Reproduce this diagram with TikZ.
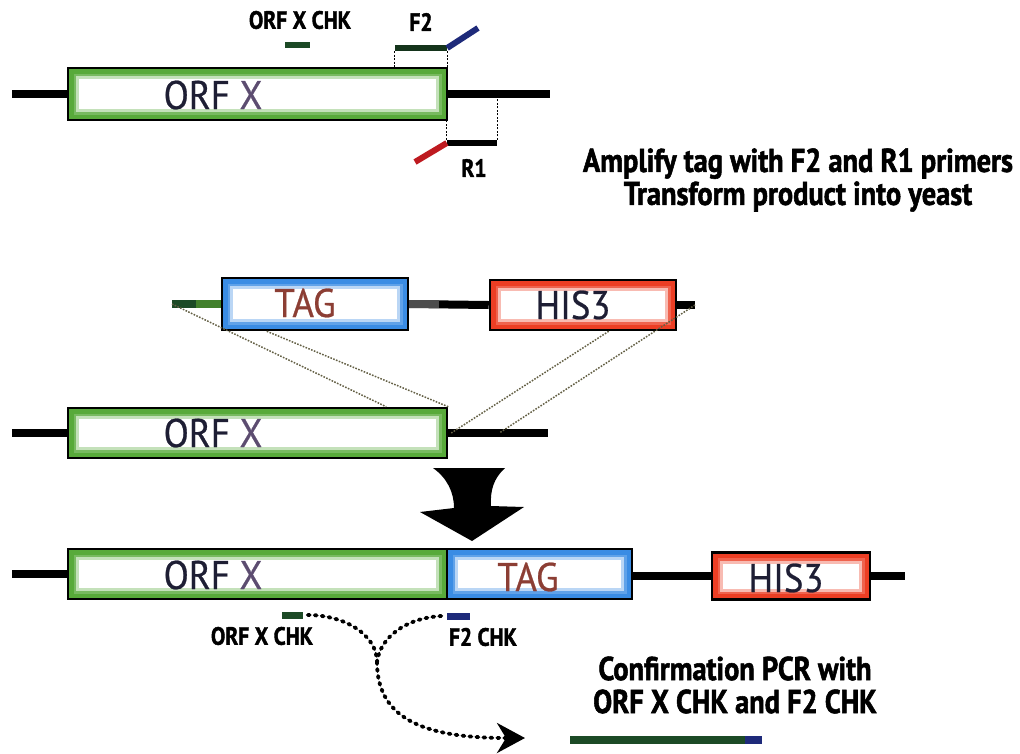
\documentclass[tikz,border=0pt]{standalone}
\usepackage{fontspec}
\setmainfont{PT Sans}
\newfontfamily\boxfont{PT Sans}[FakeStretch=0.92, FakeBold=0.6]
\newfontfamily\headfont{PT Sans}[FakeStretch=0.86, BoldFeatures={FakeBold=1.6}]
\usetikzlibrary{positioning,arrows.meta}
\definecolor{orfgreen}{RGB}{88,170,58}
\definecolor{tagblue}{RGB}{58,140,228}
\definecolor{hisred}{RGB}{236,62,36}
\definecolor{primergreen}{RGB}{28,74,38}
\definecolor{primerblue}{RGB}{30,42,122}
\definecolor{primerred}{RGB}{190,26,32}
\definecolor{orfink}{RGB}{30,30,52}
\definecolor{xink}{RGB}{92,76,112}
\definecolor{tagink}{RGB}{140,62,52}
\begin{document}
\begin{tikzpicture}
            [
            x = 1pt, y = -1pt,
            genebox/.style = {draw = black, line width = 2.5pt, fill = white, inner sep = 0,
                path picture = {
                    \foreach \w/\o in {22/0.35, 16/0.7, 11/1}
                        \draw[#1, line width = \w pt, opacity = \o]
                            (path picture bounding box.south west) rectangle (path picture bounding box.north east);
                }},
            dna/.style = {line width = 8pt, black},
            primer/.style = {rectangle, inner sep = 0, minimum height = 6pt},
            xover/.style = {line width = 1.5pt, dash pattern = on 1.6pt off 1.4pt, black!70!yellow},
            guide/.style = {line width = 1.2pt, dash pattern = on 2pt off 1.5pt, black},
            chkdots/.style = {line width = 3.8pt, dash pattern = on 2pt off 5pt, line cap = round, black},
            ]
            \tikzstyle{gene text}=[font=\boxfont\fontsize{40}{44}\selectfont, inner sep = 0]
            \tikzstyle{primer label}=[font=\headfont\bfseries\fontsize{25}{27}\selectfont, inner sep = 0]
            \tikzstyle{step text}=[font=\headfont\bfseries\fontsize{33}{33}\selectfont, align = center, inner sep = 0]

            \useasboundingbox (0,0) rectangle (1020,753);

            % ORF X with primers
            \node[genebox = orfgreen, minimum width = 379pt, minimum height = 52pt] (orftop) at (257.5,94) {};
            \node[gene text] at (213,95) {\color{orfink}ORF \color{xink}X};
            \coordinate (orftopL) at (12,94);
            \coordinate (orftopR) at (550,94);
            \draw[dna] (orftopL) -- (orftop.west);
            \draw[dna] (orftop.east) -- (orftopR);

            \node[primer, fill = primergreen, minimum width = 25pt] (chktop) at (297,45) {};
            \node[primer label] (chktoplabel) at (300,20) {ORF X CHK};
            \node[primer, fill = primergreen!70!black, minimum width = 52pt] (ftwo) at (421,48) {};
            \node[primer label] (ftwolabel) at (421,22) {F2};
            \coordinate (ftwotail) at (478,28);
            \draw[primerblue, line width = 6pt] (ftwo.east) -- (ftwotail);
            \draw[guide] (ftwo.south west) -- (ftwo.south west |- orftop.north);
            \draw[guide] (ftwo.south east) -- (ftwo.south east |- orftop.north);

            \node[primer, fill = black, minimum width = 50pt] (rone) at (472,143) {};
            \node[primer label] (ronelabel) at (474,168) {R1};
            \coordinate (ronetail) at (415,162);
            \draw[primerred, line width = 6pt] (rone.west) -- (ronetail);
            \draw[guide] (rone.north west) -- (rone.north west |- orftop.south);
            \draw[guide] (rone.north east) -- (rone.north east |- orftop.east);

            \node[step text] (amplify) at (798,180) {Amplify tag with F2 and R1 primers\\Transform product into yeast};

            % tagging cassette and homologous recombination
            \node[genebox = tagblue, minimum width = 186pt, minimum height = 52pt] (tagmid) at (315,304) {};
            \node[gene text, text = tagink] at (305,303) {TAG};
            \node[genebox = hisred, minimum width = 186pt, minimum height = 50pt] (hismid) at (583,305) {};
            \node[gene text, text = orfink] at (573,305) {HIS3};
            \coordinate (stubL) at (172,304);
            \coordinate (hisR) at (695,305);
            \draw[dna, orfgreen!75!black] (stubL) -- (tagmid.west);
            \draw[dna, primergreen] (stubL) -- ++(24,0);
            \draw[dna] (tagmid.east) -- (hismid.west);
            \draw[dna, black!70] (tagmid.east) -- ++(30,0);
            \draw[dna] (hismid.east) -- (hisR);

            \node[genebox = orfgreen, minimum width = 379pt, minimum height = 50pt] (orfmid) at (257.5,433) {};
            \node[gene text] at (213,433) {\color{orfink}ORF \color{xink}X};
            \coordinate (orfmidL) at (12,433);
            \coordinate (orfmidR) at (548,433);
            \draw[dna] (orfmidL) -- (orfmid.west);
            \draw[dna] (orfmid.east) -- (orfmidR);

            \draw[xover] (stubL) -- ([xshift = -62pt]orfmid.north east);
            \draw[xover] ([xshift = 46pt]tagmid.south west) -- (orfmid.north east);
            \draw[xover] ([xshift = 120pt]hismid.south west) -- ([xshift = 3pt]orfmid.east);
            \draw[xover] (hisR) -- ([xshift = 51pt]orfmid.east);

            % big arrow
            \fill[black] (433,468) .. controls (447,478) and (454,492) .. (454,508) -- (420,512)
                -- (472,541) -- (524,507) -- (491,506) .. controls (490,490) and (494,478) .. (505,468) -- cycle;

            % tagged locus
            \node[genebox = orfgreen, minimum width = 379pt, minimum height = 50pt] (orfbot) at (257.5,574) {};
            \node[gene text] at (213,575) {\color{orfink}ORF \color{xink}X};
            \node[genebox = tagblue, minimum width = 185pt, minimum height = 50pt] (tagbot) at (539.5,574) {};
            \node[gene text, text = tagink] at (528,577) {TAG};
            \node[genebox = hisred, minimum width = 158pt, minimum height = 47pt] (hisbot) at (791,576) {};
            \node[gene text, text = orfink] at (786,578) {HIS3};
            \coordinate (orfbotL) at (12,574);
            \coordinate (hisbotR) at (905,576);
            \draw[dna] (orfbotL) -- (orfbot.west);
            \draw[dna] (tagbot.east |- hisbot.west) -- (hisbot.west);
            \draw[dna] (hisbot.east) -- (hisbotR);

            \node[primer, fill = primergreen, minimum width = 21pt, minimum height = 7pt] (chkbot) at (292,615) {};
            \node[primer label] (chkbotlabel) at (262,636) {ORF X CHK};
            \node[primer, fill = primerblue, minimum width = 23pt, minimum height = 7pt] (ftwochk) at (458,616) {};
            \node[primer label] (ftwochklabel) at (483,637) {F2 CHK};

            \coordinate (merge) at (377,662);
            \coordinate (pcrend) at (525,738);
            \draw[chkdots] ([xshift = 5pt]chkbot.east) .. controls (345,615) and (377,635) .. (merge);
            \draw[chkdots] ([xshift = -5pt]ftwochk.west) .. controls (405,618) and (380,638) .. (merge);
            \draw[chkdots, -{Stealth[length = 28pt, width = 30pt, inset = 9pt]}] (merge) .. controls (377,722) and (430,738) .. (pcrend);

            \node[step text] (confirm) at (735,685) {Confirmation PCR with\\ORF X CHK and F2 CHK};
            \node[primer, fill = primergreen, minimum width = 175pt, minimum height = 8pt] (pcrgreen) at (657.5,740) {};
            \node[primer, fill = primerblue, minimum width = 17pt, minimum height = 8pt, right = 0pt of pcrgreen] (pcrblue) {};
\end{tikzpicture}
\end{document}
